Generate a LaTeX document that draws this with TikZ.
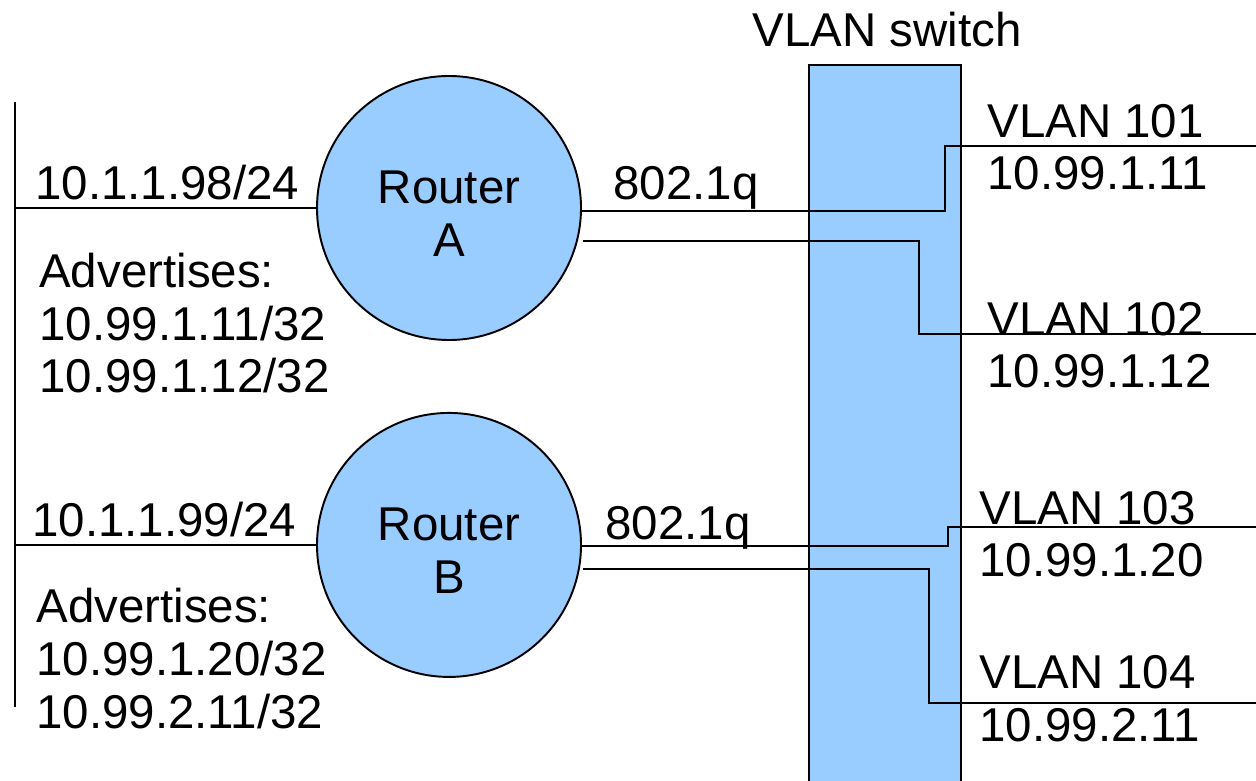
\documentclass[tikz,border=0pt]{standalone}
\usepackage{fontspec}
\setmainfont{Liberation Sans}
\usetikzlibrary{positioning}
\definecolor{netblue}{HTML}{99CCFF}
\tikzset{
  router/.style={circle, draw, fill=netblue, line width=1.1pt, minimum size=52.8mm, inner sep=0pt},
  rname/.style={inner sep=0pt, align=center},
  lbl/.style={inner sep=0pt, anchor=base west, align=left},
  wire/.style={line width=1.1pt},
}
\begin{document}
\begin{tikzpicture}[x=0.2mm, y=-0.2mm, font=\fontsize{27}{30}\selectfont]
    \useasboundingbox (0,0) rectangle (1256,781);

    % VLAN switch (runs off the bottom edge)
    \draw[wire, fill=netblue] (809,65) rectangle (961,800);
    \node[inner sep=0pt, anchor=base] (swname) at (887,47) {VLAN switch};

    % LAN segment on the left
    \coordinate (lanTop) at (15,102);
    \coordinate (lanBot) at (15,707);
    \draw[wire] (lanTop) -- (lanBot);

    % Routers
    \node[router] (rA) at (449,208) {};
    \node[router, below=14.2mm of rA] (rB) {};
    \node[rname] (rAname) at ([yshift=-3.4pt]rA.center) {Router\\A};
    \node[rname] (rBname) at ([yshift=-3.4pt]rB.center) {Router\\B};
    \draw[wire] (lanTop |- rA) -- (rA);
    \draw[wire] (lanTop |- rB) -- (rB);

    % Trunk ports and VLAN ends
    \coordinate (a1) at (581,211);
    \coordinate (a2) at (583,241);
    \coordinate (b1) at (581,546);
    \coordinate (b2) at (583,569);
    \coordinate (k101) at (945,146);
    \coordinate (k102) at (919,334);
    \coordinate (k103) at (948,527);
    \coordinate (k104) at (929,703);
    \coordinate (v101) at (1256,146);
    \coordinate (v102) at (1256,334);
    \coordinate (v103) at (1256,527);
    \coordinate (v104) at (1256,703);

    \draw[wire] (a1) -| (k101) -- (v101);
    \draw[wire] (a2) -| (k102) -- (v102);
    \draw[wire] (b1) -| (k103) -- (v103);
    \draw[wire] (b2) -| (k104) -- (v104);

    % Router A labels (base = last line)
    \node[lbl] (ipA) at (35,200) {10.1.1.98/24};
    \node[lbl] (advA) at (39,393) {Advertises:\\10.99.1.11/32\\10.99.1.12/32};
    \node[lbl] (qA) at (613,200) {802.1q};
    \node[lbl] (vl101) at (987,190) {VLAN 101\\10.99.1.11};
    \node[lbl] (vl102) at (987,388) {VLAN 102\\10.99.1.12};

    % Router B labels
    \node[lbl] (ipB) at (32,537) {10.1.1.99/24};
    \node[lbl] (advB) at (36,728) {Advertises:\\10.99.1.20/32\\10.99.2.11/32};
    \node[lbl] (qB) at (605,540) {802.1q};
    \node[lbl] (vl103) at (979,577) {VLAN 103\\10.99.1.20};
    \node[lbl] (vl104) at (979,741) {VLAN 104\\10.99.2.11};
\end{tikzpicture}
\end{document}
